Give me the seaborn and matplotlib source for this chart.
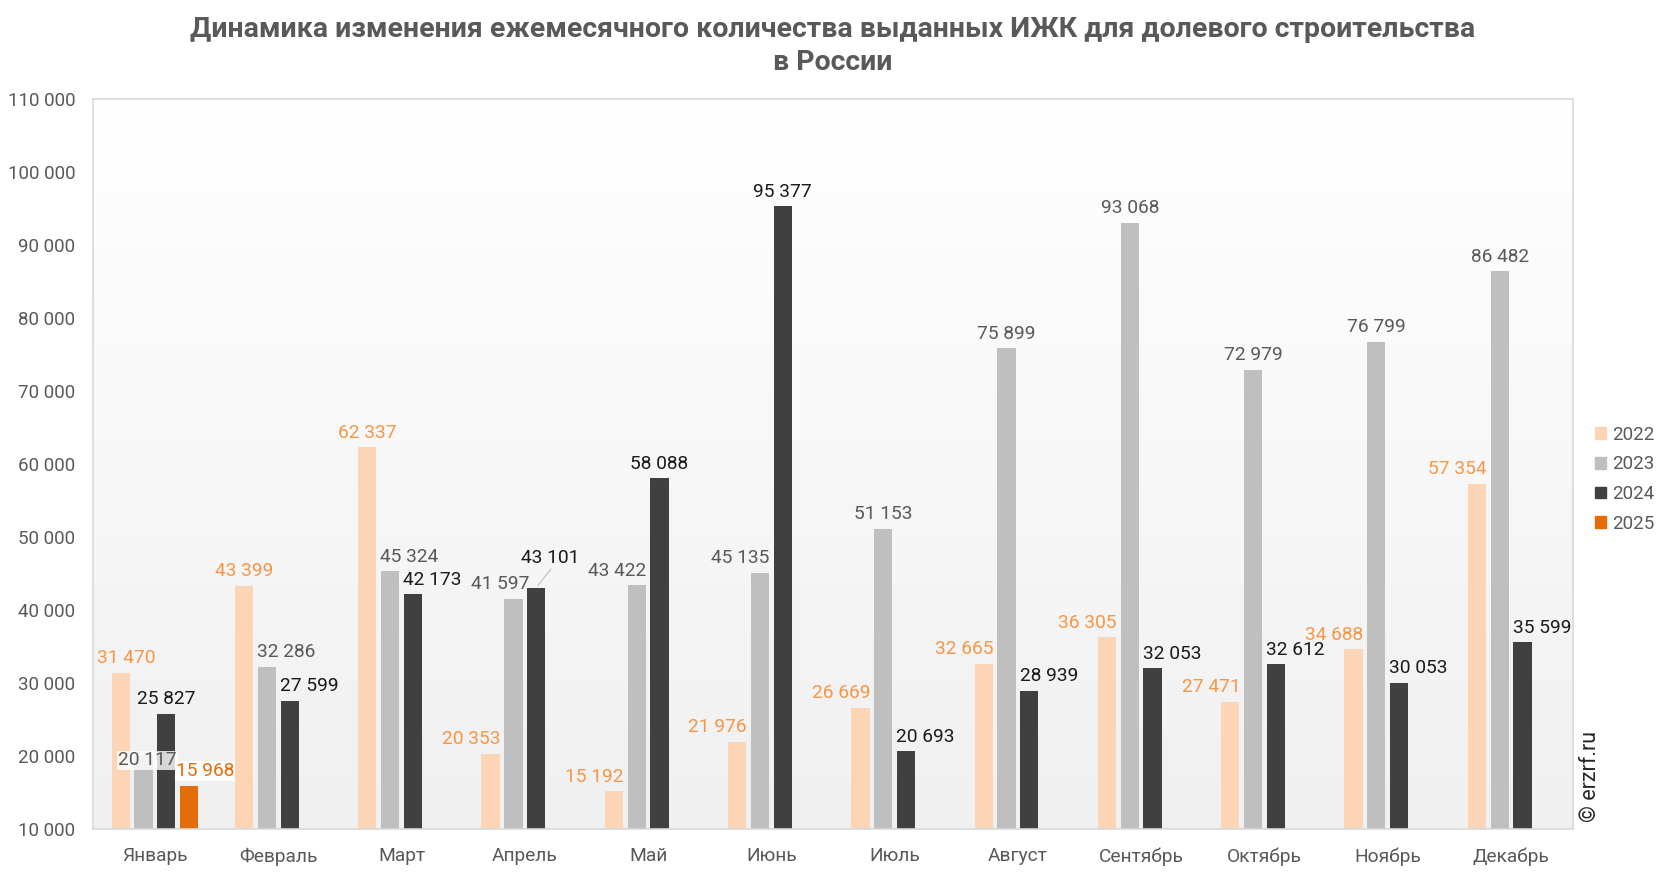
import numpy as np
import pandas as pd
import matplotlib.pyplot as plt
import matplotlib.patches as mpatches
from matplotlib.colors import LinearSegmentedColormap
import seaborn as sns

months = ['Январь', 'Февраль', 'Март', 'Апрель', 'Май', 'Июнь',
          'Июль', 'Август', 'Сентябрь', 'Октябрь', 'Ноябрь', 'Декабрь']
years = ['2022', '2023', '2024', '2025']
v2022 = [31470, 43399, 62337, 20353, 15192, 21976, 26669, 32665, 36305, 27471, 34688, 57354]
v2023 = [20117, 32286, 45324, 41597, 43422, 45135, 51153, 75899, 93068, 72979, 76799, 86482]
v2024 = [25827, 27599, 42173, 43101, 58088, 95377, 20693, 28939, 32053, 32612, 30053, 35599]
v2025 = [15968]

bar_colors = {'2022': '#fbd5b5', '2023': '#bfbfbf', '2024': '#404040', '2025': '#e46c0a'}
label_colors = {'2022': '#f79646', '2023': '#595959', '2024': '#1a1a1a', '2025': '#e46c0a'}

# label shifts (in label-widths units) to mimic the manual placement
shift = {
    '2022': [0.3, 0, 0, -1, -1, -1, -1, -1, -1, -1, -1, -1],
    '2023': [0.2, 1, 1, -0.7, -1, -1, 0, 0, 0, 0, 0, 0],
    '2024': [0, 1, 1, 0.7, 0, 0, 1, 1, 1, 1, 1, 1],
    '2025': [0.8],
}

rows = []
for y, vals in zip(years, [v2022, v2023, v2024, v2025]):
    for m, v in zip(months, vals):
        rows.append({'month': m, 'year': y, 'value': v})
df = pd.DataFrame(rows)

sns.set_style('white')
plt.rcParams['font.family'] = ['Roboto', 'DejaVu Sans']

fig = plt.figure(figsize=(16.66, 8.72), dpi=100)
ax = fig.add_axes([0.056, 0.049, 0.888, 0.837])

# background gradient
grad = np.linspace(0, 1, 256).reshape(-1, 1)
cmap = LinearSegmentedColormap.from_list('bg', ['#ffffff', '#f0f0f0'])
ax.imshow(grad, extent=[-0.5, 11.5, 10000, 110000], aspect='auto', cmap=cmap,
          origin='upper', zorder=0)

sns.barplot(data=df, x='month', y='value', hue='year', order=months,
            hue_order=years, palette=bar_colors, width=0.74, gap=0.2,
            saturation=1, ax=ax, legend=False, zorder=2, linewidth=0)

ax.set_xlim(-0.5, 11.5)
ax.set_ylim(10000, 110000)
ax.set_yticks(np.arange(10000, 110001, 10000))
ax.set_yticklabels([f"{int(t):,}".replace(',', ' ') for t in ax.get_yticks()],
                   color='#595959', fontsize=13.5)
ax.set_xticks(range(12))
ax.set_xticklabels(months, color='#595959', fontsize=13.8)
ax.set_xticks(np.arange(-0.5, 12, 1), minor=True)
ax.tick_params(axis='x', which='major', length=0, pad=13)
ax.tick_params(axis='x', which='minor', length=6, color='#d9d9d9', direction='out')
ax.tick_params(axis='y', length=5, color='#d9d9d9', direction='out', pad=8)
ax.set_xlabel('')
ax.set_ylabel('')
for s in ax.spines.values():
    s.set_color('#d9d9d9')
    s.set_linewidth(1.2)

# data labels
for yr, cont in zip(years, ax.containers):
    for bar in cont:
        h = bar.get_height()
        if np.isnan(h):
            continue
        cx = bar.get_x() + bar.get_width() / 2
        mi = int(round(cx))
        dx = shift[yr][mi] * 14
        dy = 4
        kw = {}
        if yr == '2023' and mi == 0:
            dy = -10
            kw['bbox'] = dict(facecolor='white', edgecolor='none', alpha=0.8, pad=0.5)
        if yr == '2025':
            kw['bbox'] = dict(facecolor='white', edgecolor='none', alpha=0.9, pad=0.5)
        if yr == '2024' and mi == 3:
            dy = 15
            ax.annotate('', xy=(cx, h), xytext=(dx + 2, dy), textcoords='offset points',
                        arrowprops=dict(arrowstyle='-', color='#bfbfbf', lw=0.8), zorder=3)
        ax.annotate(f"{int(h):,}".replace(',', ' '), xy=(cx, h),
                    xytext=(dx, dy), textcoords='offset points',
                    ha='center', va='bottom', fontsize=13.8,
                    color=label_colors[yr], zorder=4, **kw)

fig.text(0.5, 0.982, 'Динамика изменения ежемесячного количества выданных ИЖК для долевого строительства\nв России',
         ha='center', va='top', fontsize=20.5, fontweight='bold', color='#595959',
         linespacing=1.3)

handles = [mpatches.Patch(color=bar_colors[y], label=y) for y in years]
leg = fig.legend(handles=handles, loc='upper left', bbox_to_anchor=(0.947, 0.531),
                 frameon=False, handlelength=0.6, handleheight=0.6, handletextpad=0.35,
                 labelspacing=0.62, fontsize=13.5)
for t in leg.get_texts():
    t.set_color('#595959')

fig.text(0.9545, 0.109, '© erzrf.ru', rotation=90, ha='center', va='center',
         fontsize=15.5, color='#262626')

fig.savefig('out.png', dpi=100)
